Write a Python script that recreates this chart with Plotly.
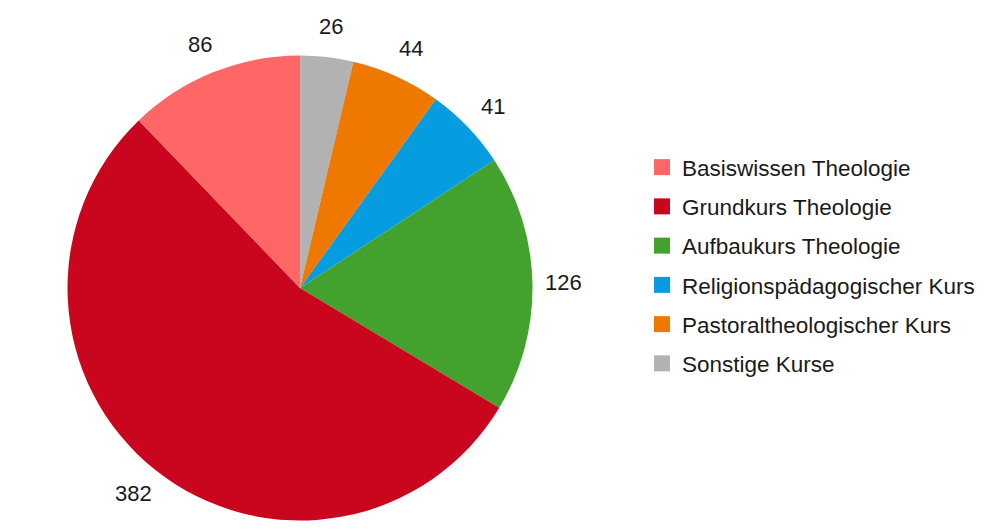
import math
import plotly.graph_objects as go

categories = ["Basiswissen Theologie", "Grundkurs Theologie", "Aufbaukurs Theologie",
              "Religionspädagogischer Kurs", "Pastoraltheologischer Kurs", "Sonstige Kurse"]
values = [86, 382, 126, 41, 44, 26]
colors = ["#FF6666", "#C9061E", "#43A12D", "#069DE0", "#EE7800", "#B2B2B2"]

W, H = 1000, 532
OFF = 8  # page offset of the figure
cx, cy, R = 300 - OFF, 288 - OFF, 232.5
FONT = "Liberation Sans, Arial, sans-serif"

# pie drawn clockwise from 12 o'clock in reverse legend order
p_labels = categories[::-1]
p_values = values[::-1]
p_colors = colors[::-1]

fig = go.Figure()
fig.add_trace(go.Pie(
    labels=p_labels, values=p_values, sort=False, direction="clockwise",
    rotation=0, marker=dict(colors=p_colors, line=dict(width=0)),
    textinfo="none", hoverinfo="label+value", showlegend=False,
    domain=dict(x=[(cx - R) / W, (cx + R) / W], y=[1 - (cy + R) / H, 1 - (cy - R) / H]),
))

# value labels placed outside each slice, at its mid angle
total = sum(p_values)
cum = 0.0
d = 263
for v in p_values:
    mid = (cum + v / 2) / total * 2 * math.pi
    cum += v
    s, c = math.sin(mid), math.cos(mid)
    px = cx + d * s + 6 * s * abs(c)
    py = cy - d * c
    fig.add_annotation(x=px / W, y=1 - py / H, xref="paper", yref="paper",
                       text=str(v), showarrow=False, xanchor="center", yanchor="middle",
                       font=dict(family=FONT, size=22, color="#1a1a1a"))

# legend entries
for i, (c, col) in enumerate(zip(categories, colors)):
    fig.add_trace(go.Scatter(x=[None], y=[None], mode="markers", name=c,
                             legendgroup=str(i), hoverinfo="skip",
                             marker=dict(symbol="square", size=16, color=col)))

fig.update_layout(
    width=W, height=H, margin=dict(l=0, r=0, t=0, b=0, autoexpand=False),
    paper_bgcolor="white", plot_bgcolor="white",
    xaxis=dict(visible=False), yaxis=dict(visible=False),
    legend=dict(x=(642 - OFF) / W, y=1 - (146 - OFF) / H, xanchor="left", yanchor="top",
                font=dict(family=FONT, size=22.5, color="#1a1a1a"),
                tracegroupgap=7, bgcolor="rgba(0,0,0,0)"),
)
fig.write_html("out.html")
